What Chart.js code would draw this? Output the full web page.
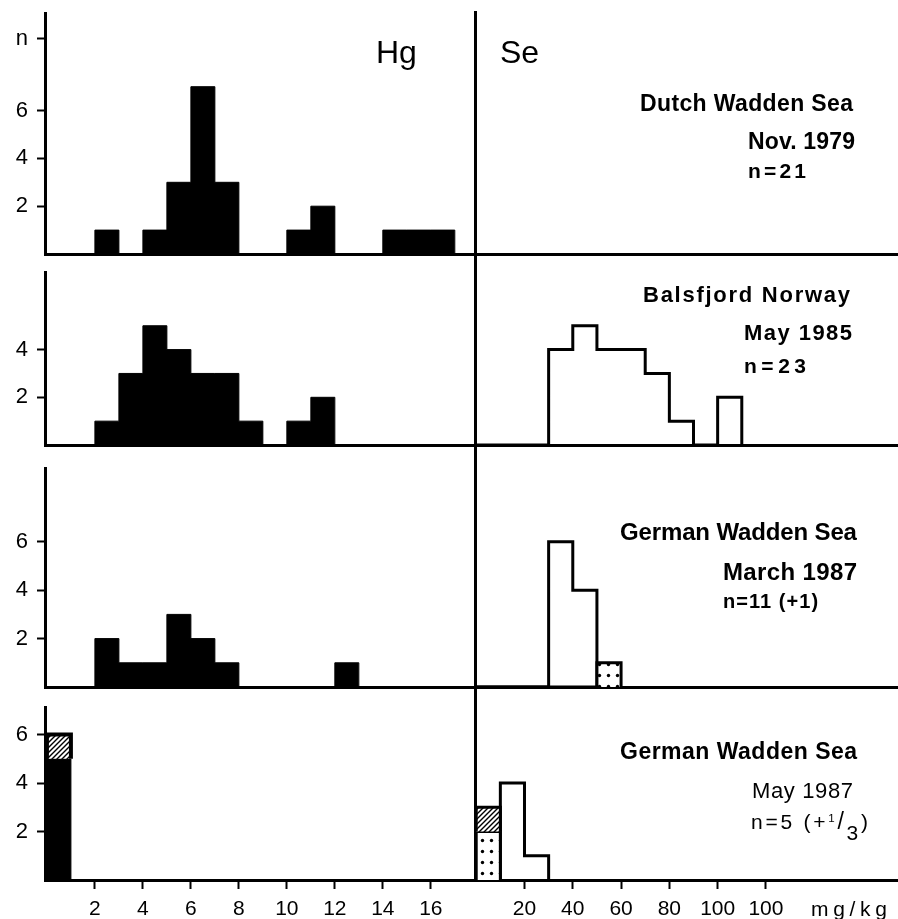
<!DOCTYPE html>
<html><head><meta charset="utf-8">
<script src="https://cdn.jsdelivr.net/npm/chart.js@4.4.1/dist/chart.umd.min.js"></script>
<style>
html,body{margin:0;padding:0;background:#fff;overflow:hidden;}
#wrap{position:relative;width:898px;height:919px;background:#fff;}
canvas{position:absolute;}
.lbl{position:absolute;white-space:nowrap;line-height:1;color:#000;font-family:'Liberation Sans',Arial,sans-serif;}
</style></head><body><div id="wrap"></div>
<script>
// ---------------- data ----------------
const hgTickValues = [2, 4, 6, 8, 10, 12, 14, 16];
const hgTickLabels = ['2', '4', '6', '8', '10', '12', '14', '16'];
const seTickValues = [20, 40, 60, 80, 100, 120];
const seTickLabels = ['20', '40', '60', '80', '100', '100'];
const hgBinWidth = 1;   // mg/kg
const seBinWidth = 10;  // mg/kg
// counts per bin, bins start at 0
const hgDutch1979 = [0, 0, 1, 0, 1, 3, 7, 3, 0, 0, 1, 2, 0, 0, 1, 1, 1];
const hgBalsfjord1985 = [0, 0, 1, 3, 5, 4, 3, 3, 1, 0, 1, 2];
const hgGermanMar1987 = [0, 0, 2, 1, 1, 3, 2, 1, 0, 0, 0, 0, 1];
const hgGermanMay1987 = [5];
const hgGermanMay1987Hatched = [1];
const seDutch1979 = [];
const seBalsfjord1985 = [0, 0, 0, 4, 5, 4, 4, 3, 1, 0, 2];
const seGermanMar1987 = [0, 0, 0, 6, 4];
const seGermanMar1987Dotted = [0, 0, 0, 0, 0, 1];
const seGermanMay1987 = [0, 4, 1];
const seGermanMay1987Dotted = [2];
const seGermanMay1987Hatched = [1];
const yTickValues = [[2, 4, 6, 9], [2, 4], [2, 4, 6], [2, 4, 6]];
const yTickLabels = [['2', '4', '6', 'n'], ['2', '4'], ['2', '4', '6'], ['2', '4', '6']];
const siteNames = ['Dutch Wadden Sea', 'Balsfjord Norway', 'German Wadden Sea', 'German Wadden Sea'];
const sampleDates = ['Nov. 1979', 'May 1985', 'March 1987', 'May 1987'];
const sampleSizes = ['n=21', 'n=23', 'n=11 (+1)', 'n=5 (+1/3)'];
const unitLabel = 'mg/kg';

// ---------------- layout ----------------
const rows = [
  {B: 254, k: 23.9,  TL: 13,  TR: 12},
  {B: 445, k: 23.85, TL: 272, TR: 254},
  {B: 687, k: 24.2,  TL: 468, TR: 445},
  {B: 880, k: 24.25, TL: 707, TR: 687}
];
const wrap = document.getElementById('wrap');
Chart.defaults.font.family = "'Liberation Sans', Arial, sans-serif";
Chart.defaults.color = '#000';

function makeDots() {
  const c = document.createElement('canvas'); c.width = 9; c.height = 11;
  const g = c.getContext('2d');
  g.fillStyle = '#fff'; g.fillRect(0, 0, 9, 11);
  g.fillStyle = '#000'; g.beginPath(); g.arc(4.5, 5.5, 1.7, 0, Math.PI * 2); g.fill();
  return g.createPattern(c, 'repeat');
}
function makeHatch() {
  const s = 5; const c = document.createElement('canvas'); c.width = s; c.height = s;
  const g = c.getContext('2d');
  g.fillStyle = '#fff'; g.fillRect(0, 0, s, s);
  g.strokeStyle = '#000'; g.lineWidth = 1.4; g.beginPath();
  g.moveTo(0, s); g.lineTo(s, 0);
  g.moveTo(-1, 1); g.lineTo(1, -1);
  g.moveTo(s - 1, s + 1); g.lineTo(s + 1, s - 1);
  g.stroke();
  return g.createPattern(c, 'repeat');
}
const dots = makeDots();
const hatch = makeHatch();

function stepPoints(counts, width, base) {
  const b = base || 0;
  const pts = [{x: 0, y: b}];
  counts.forEach((c, i) => pts.push({x: i * width, y: b + c}));
  pts.push({x: counts.length * width, y: b});
  return pts;
}
const common = {type: 'line', stepped: 'before', pointRadius: 0, pointHoverRadius: 0, tension: 0, borderColor: '#000'};
function solid(counts, w) { return Object.assign({}, common, {data: stepPoints(counts, w), fill: 'origin', backgroundColor: '#000', borderWidth: 1}); }
function open(counts, w) { return Object.assign({}, common, {data: stepPoints(counts, w), fill: false, borderWidth: 3}); }
function dotted(counts, w) { return Object.assign({}, common, {data: stepPoints(counts, w), fill: 'origin', backgroundColor: dots, borderWidth: 3}); }
function hatched(counts, w, base, bw) { return Object.assign({}, common, {data: stepPoints(counts, w, base), fill: {value: base}, backgroundColor: hatch, borderWidth: bw}); }

const leftSets = [
  [solid(hgDutch1979, hgBinWidth)],
  [solid(hgBalsfjord1985, hgBinWidth)],
  [solid(hgGermanMar1987, hgBinWidth)],
  [hatched(hgGermanMay1987Hatched, hgBinWidth, hgGermanMay1987[0], 4), solid(hgGermanMay1987, hgBinWidth)]
];
const rightSets = [
  seDutch1979.length ? [open(seDutch1979, seBinWidth)] : [],
  [open(seBalsfjord1985, seBinWidth)],
  [dotted(seGermanMar1987Dotted, seBinWidth), open(seGermanMar1987, seBinWidth)],
  [hatched(seGermanMay1987Hatched, seBinWidth, seGermanMay1987Dotted[0], 3), dotted(seGermanMay1987Dotted, seBinWidth), open(seGermanMay1987, seBinWidth)]
];

function panel(isLeft, r) {
  const row = rows[r];
  const top = isLeft ? row.TL : row.TR;
  const padTop = 6;
  const bottomRow = r === 3;
  const xH = bottomRow ? 40 : 4;
  const cLeft = isLeft ? 0 : 460, cW = isLeft ? 474 : 438;
  const yW = isLeft ? 45 : 15;
  const h = padTop + (row.B - top) + xH;
  const cv = document.createElement('canvas');
  cv.width = cW; cv.height = h;
  cv.style.left = cLeft + 'px'; cv.style.top = (top - padTop) + 'px';
  cv.style.width = cW + 'px'; cv.style.height = h + 'px';
  wrap.appendChild(cv);
  const xVals = isLeft ? hgTickValues : seTickValues;
  const xLabs = isLeft ? hgTickLabels : seTickLabels;
  new Chart(cv, {
    type: 'line',
    data: {datasets: isLeft ? leftSets[r] : rightSets[r]},
    options: {
      responsive: false, animation: false, events: [], devicePixelRatio: 1,
      layout: {padding: {top: padTop, left: 0, right: 0, bottom: 0}},
      plugins: {legend: {display: false}, tooltip: {enabled: false}, title: {display: false}},
      scales: {
        x: {
          type: 'linear', offset: false,
          min: isLeft ? -0.08 : -0.5, max: isLeft ? 17.8 : 174.7,
          afterBuildTicks: s => { s.ticks = xVals.map(v => ({value: v})); },
          afterFit: s => { s.height = xH; s.paddingLeft = 0; s.paddingRight = 0; },
          ticks: {display: bottomRow, autoSkip: false, maxRotation: 0, minRotation: 0, padding: 8, color: '#000',
                  font: {size: 21}, callback: (v, i) => xLabs[i]},
          grid: {display: bottomRow, drawOnChartArea: false, drawTicks: true, tickLength: 9, tickWidth: 2, tickColor: '#000', color: '#000'},
          border: {display: true, width: 3, color: '#000'}
        },
        y: {
          type: 'linear', min: 0, max: (row.B - top) / row.k,
          afterBuildTicks: s => { s.ticks = yTickValues[r].map(v => ({value: v})); },
          afterFit: s => { s.width = yW; s.paddingTop = 0; s.paddingBottom = 0; },
          ticks: {display: isLeft, padding: 9, color: '#000', font: {size: 22}, callback: (v, i) => yTickLabels[r][i]},
          grid: {display: isLeft, drawOnChartArea: false, drawTicks: true, tickLength: 8, tickWidth: 2, tickColor: '#000', color: '#000'},
          border: {display: true, width: 3, color: '#000'}
        }
      }
    }
  });
}
for (let r = 0; r < 4; r++) { panel(true, r); panel(false, r); }

// ---------------- text annotations ----------------
function addLabel(html, x, capTop, size, weight, targetW) {
  const d = document.createElement('div');
  d.className = 'lbl';
  d.innerHTML = html;
  d.style.fontSize = size + 'px';
  d.style.fontWeight = weight;
  d.style.left = x + 'px';
  d.style.top = (capTop - 0.13 * size) + 'px';
  wrap.appendChild(d);
  if (targetW) {
    const nat = d.getBoundingClientRect().width;
    const n = d.textContent.length;
    if (n > 1) d.style.letterSpacing = ((targetW - nat) / (n - 1)).toFixed(2) + 'px';
  }
  return d;
}
function fractionHtml(s) {
  return s.replace('1/3', '<span style="font-size:0.55em;position:relative;top:-0.6em">1</span><span style="font-size:1.1em">/</span><span style="position:relative;top:0.5em">3</span>');
}
addLabel('Hg', 376, 40, 32, 'normal', 0);
addLabel('Se', 500, 40, 32, 'normal', 0);
const txtPos = [
  {site: [640, 95, 23, 213], date: [748, 133, 23, 107], n: [748, 163, 21, 58], w: ['bold', 'bold', 'bold']},
  {site: [643, 287, 22, 207], date: [744, 325, 22, 108], n: [744, 358, 21, 62], w: ['bold', 'bold', 'bold']},
  {site: [620, 523, 24, 237], date: [723, 563, 24, 134], n: [723, 594, 20, 95], w: ['bold', 'bold', 'bold']},
  {site: [620, 743, 23, 237], date: [752, 783, 22, 101], n: [751, 813, 21, 117], w: ['bold', 'normal', 'normal']}
];
txtPos.forEach((p, i) => {
  addLabel(siteNames[i], p.site[0], p.site[1], p.site[2], p.w[0], p.site[3]);
  addLabel(sampleDates[i], p.date[0], p.date[1], p.date[2], p.w[1], p.date[3]);
  addLabel(fractionHtml(sampleSizes[i]), p.n[0], p.n[1], p.n[2], p.w[2], p.n[3]);
});
addLabel(unitLabel, 811, 901, 21, 'normal', 76);
</script></body></html>
